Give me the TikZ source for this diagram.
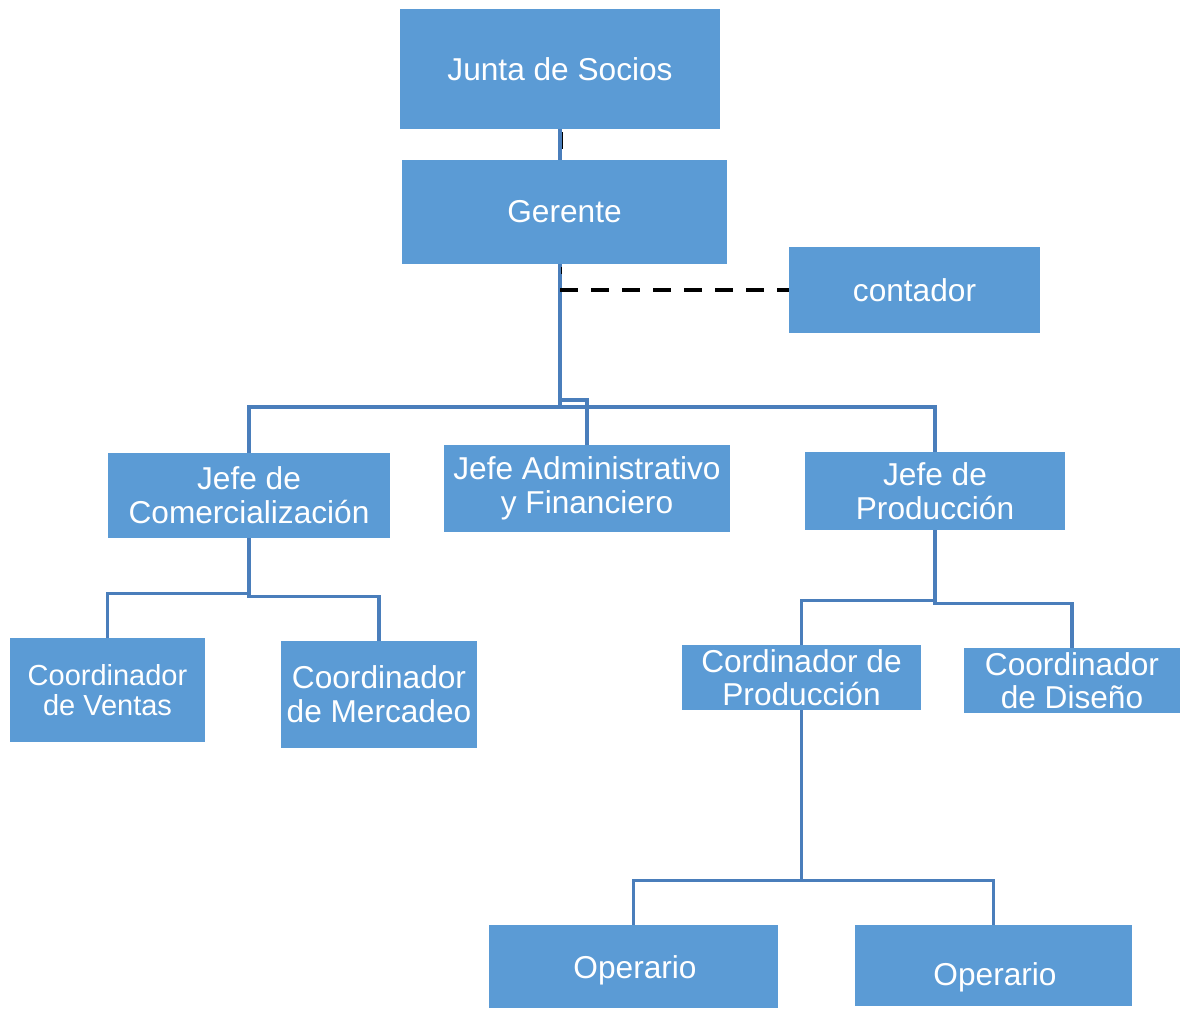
\documentclass[tikz,border=0pt]{standalone}
\usepackage{fontspec}
\setmainfont{Liberation Sans}
\usetikzlibrary{calc}
\definecolor{boxblue}{RGB}{91,155,213}
\definecolor{lineblue}{RGB}{74,126,187}
\tikzset{
  box/.style={fill=boxblue, draw=none, text=white, align=center, inner sep=0pt,
    font=\fontsize{18}{19.5}\selectfont},
  lbl/.style={text=white, align=center, inner sep=0pt, font=\fontsize{18}{19.5}\selectfont},
  conn/.style={draw=lineblue, line width=1.9pt},
  dashconn/.style={draw=black, line width=2.3pt, dash pattern=on 0.36cm off 0.26cm},
  tick/.style={draw=black, line width=0.8pt}
}
\begin{document}
\begin{tikzpicture}
\useasboundingbox (0,0) rectangle (23.62,-20.2);
% boxes
\node[box, minimum width=6.4cm, minimum height=2.4cm] (junta) at (11.2,-1.38) {Junta de Socios};
\node[box, minimum width=6.5cm, minimum height=2.08cm] (gerente) at (11.29,-4.24) {Gerente};
\node[box, minimum width=5.02cm, minimum height=1.72cm] (contador) at (18.29,-5.8) {contador};
\node[box, minimum width=5.64cm, minimum height=1.7cm] (jcom) at (4.98,-9.91) {Jefe de\\Comercialización};
\node[box, minimum width=5.72cm, minimum height=1.74cm] (jadm) at (11.74,-9.77) {Jefe Administrativo\\y Financiero};
\node[box, minimum width=5.2cm, minimum height=1.56cm] (jprod) at (18.7,-9.82) {Jefe de\\Producción};
\node[box, minimum width=3.9cm, minimum height=2.08cm, font=\fontsize{16.5}{17.5}\selectfont] (cven) at (2.15,-13.8) {Coordinador\\de Ventas};
\node[box, minimum width=3.92cm, minimum height=2.14cm] (cmer) at (7.58,-13.89) {Coordinador\\de Mercadeo};
\node[box, minimum width=4.78cm, minimum height=1.3cm, font=\fontsize{18}{18.5}\selectfont] (cprod) at (16.03,-13.55) {Cordinador de\\Producción};
\node[box, minimum width=4.32cm, minimum height=1.3cm, font=\fontsize{18}{18.5}\selectfont] (cdis) at (21.44,-13.61) {Coordinador\\de Diseño};
\node[box, minimum width=5.78cm, minimum height=1.66cm] (op1) at (12.67,-19.33) {};
\node[lbl] (op1t) at (12.7,-19.4) {Operario};
\node[box, minimum width=5.54cm, minimum height=1.62cm] (op2) at (19.87,-19.31) {};
\node[lbl] (op2t) at (19.9,-19.54) {Operario};
% hub coordinate
\coordinate (hub) at (11.2,-8.14);
% connectors
\draw[conn] (junta.south) -- (junta.south |- gerente.north);
\draw[tick] ($(junta.south)+(0.05,-0.06)$) -- ++(0,-0.34);
\draw[conn] (junta.south |- gerente.south) -- (hub);
\draw[tick] ($(junta.south |- gerente.south)+(0.03,-0.06)$) -- ++(0,-0.14);
\draw[dashconn] (hub |- contador.west) -- (contador.west);
\draw[conn] (hub) -| (jcom.north);
\draw[conn] (hub) -| (jprod.north);
\draw[conn] (hub) -- ++(0,0.14) -| (jadm.north);
\draw[conn] (jcom.south) -- ++(0,-1.1) -| (cven.north);
\draw[conn] (jcom.south) -- ++(0,-1.16) -| (cmer.north);
\draw[conn] (jprod.south) -- ++(0,-1.4) -| (cprod.north);
\draw[conn] (jprod.south) -- ++(0,-1.46) -| (cdis.north);
\draw[conn] (cprod.south) -- ++(0,-3.4) -| (op1.north);
\draw[conn] (cprod.south) -- ++(0,-3.4) -| (op2.north);
\end{tikzpicture}
\end{document}
